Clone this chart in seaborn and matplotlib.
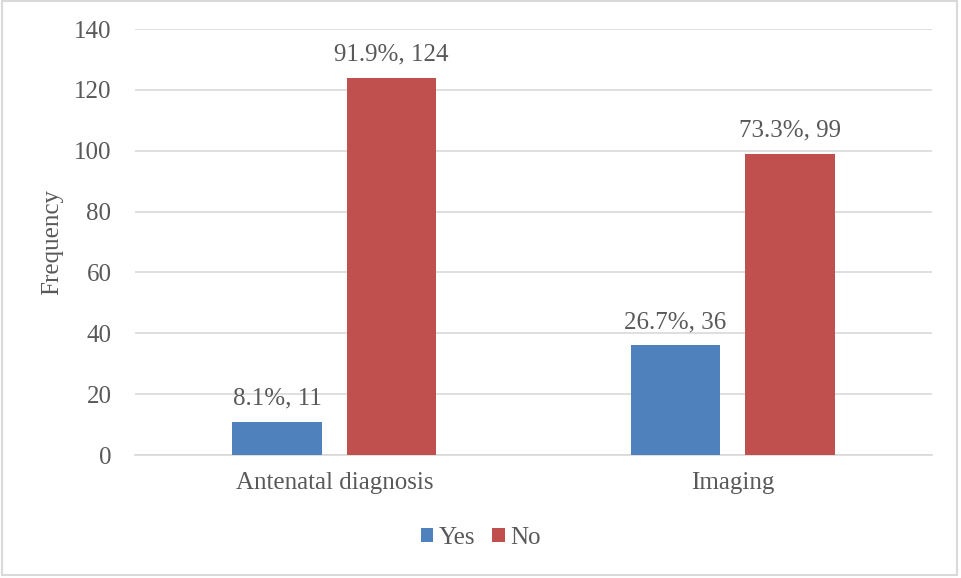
import matplotlib
matplotlib.use("Agg")
import matplotlib.pyplot as plt
import seaborn as sns
import pandas as pd
from matplotlib.patches import Rectangle

categories = ["Antenatal diagnosis", "Imaging"]
series = ["Yes", "No"]
yes_values = [11, 36]
no_values = [124, 99]
yes_pct = ["8.1%", "26.7%"]
no_pct = ["91.9%", "73.3%"]
y_ticks = [0, 20, 40, 60, 80, 100, 120, 140]

colors = {"Yes": "#4F81BD", "No": "#C0504D"}
text_color = "#595959"
grid_color = "#D9D9D9"

df = pd.DataFrame({
    "category": categories * 2,
    "answer": ["Yes"] * len(categories) + ["No"] * len(categories),
    "value": yes_values + no_values,
    "pct": yes_pct + no_pct,
})

sns.set_theme(style="white")
plt.rcParams["font.family"] = ["Liberation Serif", "DejaVu Serif"]
fs = 18

fig = plt.figure(figsize=(9.61, 5.78), dpi=100)
ax = fig.add_axes([0.1405, 0.2128, 0.8293, 0.737])

sns.barplot(data=df, x="category", y="value", hue="answer", hue_order=series,
            palette=colors, width=0.575, gap=0.22, saturation=1,
            legend=False, ax=ax, zorder=3, linewidth=0)

ax.set_ylim(0, 140)
ax.set_yticks(y_ticks)
ax.set_xlim(-0.5, 1.5)
ax.yaxis.grid(True, color=grid_color, linewidth=1.2, zorder=0)
ax.set_axisbelow(True)
for side in ["top", "right", "left"]:
    ax.spines[side].set_visible(False)
ax.spines["bottom"].set_color(grid_color)
ax.spines["bottom"].set_linewidth(1.2)
ax.tick_params(axis="both", length=0, labelsize=fs, colors=text_color)
ax.tick_params(axis="x", pad=12)
ax.tick_params(axis="y", pad=17)
ax.set_xlabel("")
ax.set_ylabel("Frequency", fontsize=fs, color=text_color, labelpad=8)

# value labels: "percent, count" above each bar
for container, ans in zip(ax.containers, series):
    sub = df[df["answer"] == ans]
    labels = [f"{p}, {v}" for p, v in zip(sub["pct"], sub["value"])]
    ax.bar_label(container, labels=labels, padding=9, fontsize=fs, color=text_color)

# legend below the plot
handles = [Rectangle((0, 0), 1, 1, facecolor=colors[s], edgecolor="none") for s in series]
fig.legend(handles, series, loc="center", bbox_to_anchor=(0.5, 0.069), ncol=2,
           frameon=False, fontsize=fs, handlelength=0.5, handleheight=0.5,
           handletextpad=0.2, columnspacing=0.7, labelcolor=text_color)

# outer chart border
fig.patches.append(Rectangle((0.002, 0.006), 0.994, 0.992, transform=fig.transFigure,
                             fill=False, edgecolor=grid_color, linewidth=1.5))

fig.savefig("out.png", dpi=100)
